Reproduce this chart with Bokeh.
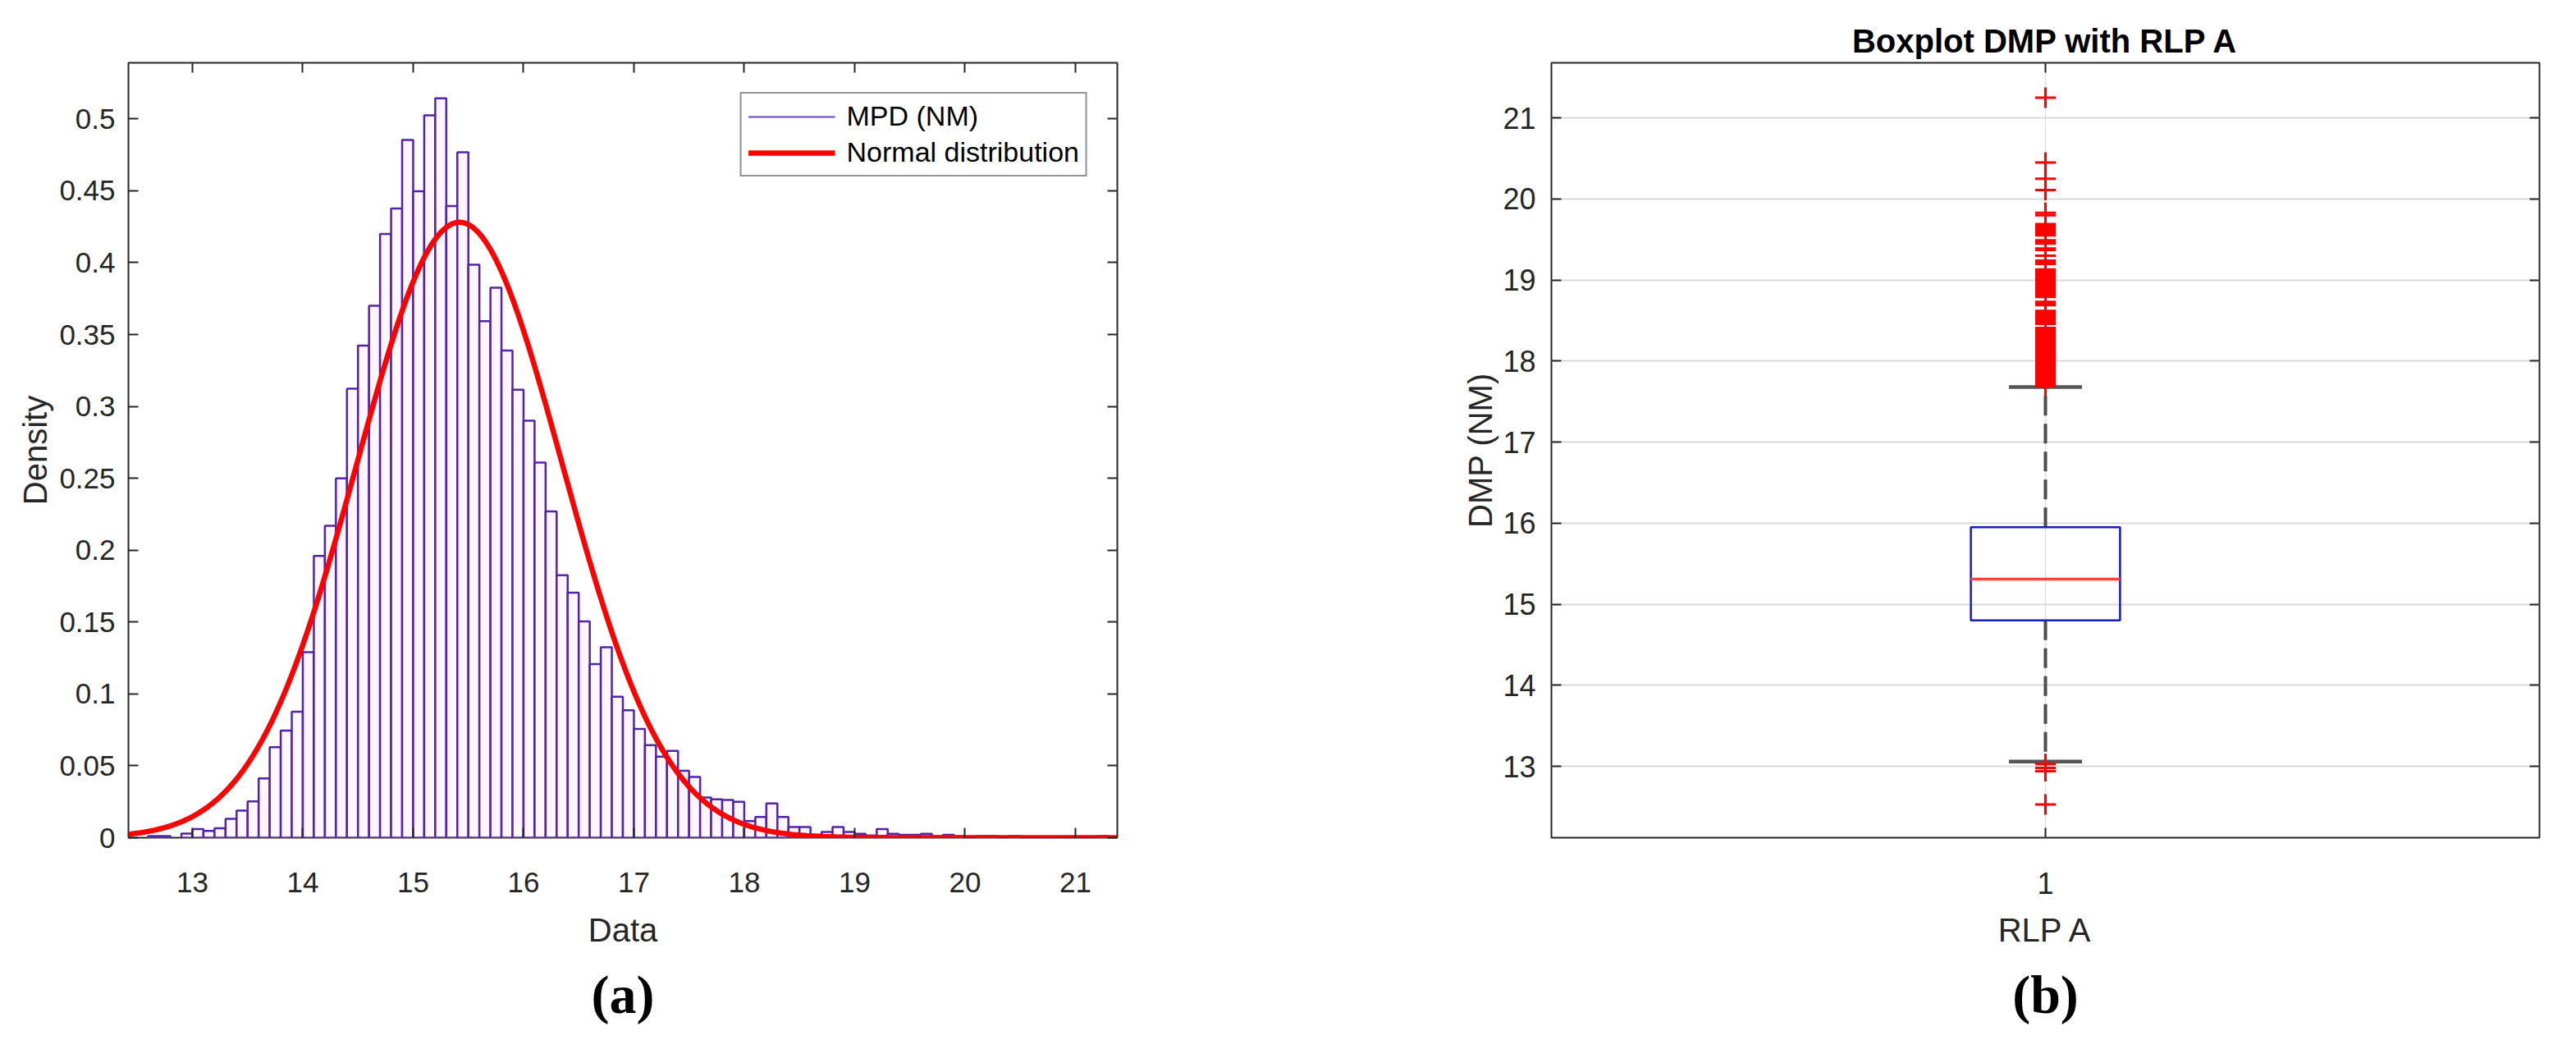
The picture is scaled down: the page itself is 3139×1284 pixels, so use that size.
import numpy as np
from bokeh.plotting import figure
from bokeh.models import (Range1d, LinearAxis, FixedTicker, CustomJSTickFormatter,
                          Legend, LegendItem, Title)
from bokeh.layouts import row
from bokeh.embed import file_html
from bokeh.resources import INLINE

# ---------------- data: panel (a) histogram + normal fit ----------------
bin_start = 12.6
bin_width = 0.1
mpd_density = [
    0.0012, 0.0012, 0.0, 0.0028, 0.0060, 0.0047, 0.0066, 0.0131, 0.0188, 0.0253,   # 12.6 - 13.5
    0.0413, 0.0629, 0.0745, 0.0876, 0.1290, 0.1960, 0.2170, 0.2500, 0.3123, 0.3423,  # 13.6 - 14.5
    0.3700, 0.4200, 0.4377, 0.4853, 0.4496, 0.5024, 0.5143, 0.4394, 0.4768, 0.3985,  # 14.6 - 15.5
    0.3593, 0.3825, 0.3389, 0.3116, 0.2900, 0.2610, 0.2270, 0.1826, 0.1705, 0.1504,  # 15.6 - 16.5
    0.1208, 0.1324, 0.0980, 0.0886, 0.0757, 0.0644, 0.0564, 0.0604, 0.0465, 0.0422,  # 16.6 - 17.5
    0.0280, 0.0267, 0.0262, 0.0250, 0.0116, 0.0144, 0.0239, 0.0144, 0.0074, 0.0074,  # 17.6 - 18.5
    0.0020, 0.0040, 0.0074, 0.0040, 0.0027, 0.0015, 0.0060, 0.0027, 0.0020, 0.0020,  # 18.6 - 19.5
    0.0027, 0.0010, 0.0020, 0.0010, 0.0, 0.0012, 0.0012, 0.0, 0.0012, 0.0,           # 19.6 - 20.5
    0.0, 0.0, 0.0, 0.0, 0.0, 0.0, 0.0012,                                             # 20.6 - 21.2
]
norm_mu = 15.42
norm_sigma = 0.932
xlim_a = (12.42, 21.38)
ylim_a = (0.0, 0.539)
xticks_a = [13, 14, 15, 16, 17, 18, 19, 20, 21]
yticks_a = [0, 0.05, 0.1, 0.15, 0.2, 0.25, 0.3, 0.35, 0.4, 0.45, 0.5]
legend_labels_a = ["MPD (NM)", "Normal distribution"]

# ---------------- data: panel (b) boxplot ----------------
box_q1 = 14.80
box_median = 15.31
box_q3 = 15.95
whisker_low = 13.06
whisker_high = 17.68
outliers_high = [
    17.69, 17.71, 17.73, 17.75, 17.77, 17.79, 17.81, 17.83, 17.85, 17.87, 17.89,
    17.91, 17.93, 17.95, 17.97, 17.99, 18.01, 18.03, 18.05, 18.07, 18.09, 18.11,
    18.13, 18.15, 18.17, 18.19, 18.21, 18.23, 18.25, 18.27, 18.29, 18.31, 18.33,
    18.35, 18.37, 18.39, 18.41, 18.46, 18.48, 18.50, 18.52, 18.54, 18.56, 18.58,
    18.60, 18.62, 18.69, 18.71, 18.73, 18.79, 18.81, 18.83, 18.85, 18.87, 18.89,
    18.91, 18.93, 18.95, 18.97, 18.99, 19.01, 19.03, 19.05, 19.07, 19.09, 19.11,
    19.13, 19.20, 19.22, 19.24, 19.30, 19.37, 19.39, 19.45, 19.47, 19.49, 19.55,
    19.57, 19.59, 19.61, 19.63, 19.65, 19.67, 19.69, 19.80, 19.83, 20.11, 20.25,
    20.45, 21.25,
]
outliers_low = [13.03, 12.98, 12.94, 12.53]
category_b = "1"
xlim_b = (0.5, 1.5)
ylim_b = (12.12, 21.68)
yticks_b = [13, 14, 15, 16, 17, 18, 19, 20, 21]
box_width = 0.151
cap_width = 0.074

# ---------------- styles ----------------
FONT = "Liberation Sans"
TXT = "#262626"
PURPLE = "#5424a8"
RED = "#ff0000"


def style_axis(ax, size):
    ax.axis_line_color = None
    ax.major_tick_in = 12
    ax.major_tick_out = 0
    ax.major_tick_line_color = TXT
    ax.major_tick_line_width = 2
    ax.minor_tick_line_color = None
    ax.major_label_text_font = FONT
    ax.major_label_text_font_size = f"{size}px"
    ax.major_label_text_color = TXT
    ax.axis_label_text_font = FONT
    ax.axis_label_text_font_size = "40px"
    ax.axis_label_text_font_style = "normal"
    ax.axis_label_text_color = TXT


def hidden_axis(p, place, ticks):
    # tick marks only (inside), labels not drawn
    ax = LinearAxis(ticker=FixedTicker(ticks=ticks))
    style_axis(ax, 1)
    ax.major_label_text_color = None
    ax.major_label_standoff = 0
    p.add_layout(ax, place)


def caption(p, letter, offset, standoff):
    t = Title(text=f"({letter})", align="center", offset=offset, standoff=standoff,
              text_font="Liberation Serif", text_font_size="66px",
              text_font_style="bold", text_color="#000000")
    p.add_layout(t, "below")


# ---------------- panel (a) ----------------
pa = figure(width=1692, height=1262, output_backend="svg", toolbar_location=None,
            x_range=Range1d(*xlim_a), y_range=Range1d(*ylim_a),
            min_border_left=156, min_border_right=331, min_border_top=76,
            min_border_bottom=238, x_axis_label="Data", y_axis_label="Density")
pa.outline_line_color = TXT
pa.outline_line_width = 2
pa.xgrid.visible = False
pa.ygrid.visible = False

pa.xaxis.ticker = FixedTicker(ticks=xticks_a)
pa.yaxis.ticker = FixedTicker(ticks=yticks_a)
pa.yaxis.formatter = CustomJSTickFormatter(
    code="return tick.toFixed(2).replace(/0+$/, '').replace(/\\.$/, '');")
for ax in pa.xaxis + pa.yaxis:
    style_axis(ax, 35)
pa.xaxis.major_label_standoff = 42
pa.xaxis.axis_label_standoff = 21
pa.yaxis.major_label_standoff = 16
pa.yaxis.axis_label_standoff = 4
hidden_axis(pa, "above", xticks_a)
hidden_axis(pa, "right", yticks_a)

dens = np.array(mpd_density)
lefts = bin_start + bin_width * np.arange(len(dens))
keep = dens > 0
pa.quad(left=lefts[keep], right=lefts[keep] + bin_width, bottom=0, top=dens[keep],
        fill_color="#fdf6ff", line_color=PURPLE, line_width=2.5)

xs = np.linspace(xlim_a[0], xlim_a[1], 600)
pdf = np.exp(-0.5 * ((xs - norm_mu) / norm_sigma) ** 2) / (norm_sigma * np.sqrt(2 * np.pi))
curve = pa.line(xs, pdf, line_color=RED, line_width=6.5)

# one-point line: only used as the legend swatch of the histogram
leg_line = pa.line(x=[xlim_a[0]], y=[ylim_a[0]], line_color="#6a3fc0", line_width=2)
legend = Legend(items=[LegendItem(label=legend_labels_a[0], renderers=[leg_line]),
                       LegendItem(label=legend_labels_a[1], renderers=[curve])],
                location="top_right", margin=36, padding=8, spacing=5,
                glyph_width=106, glyph_height=34, label_height=34, label_standoff=14,
                label_text_font=FONT, label_text_font_size="34px", label_text_color="#000000",
                border_line_color=TXT, border_line_width=2,
                background_fill_color="white", background_fill_alpha=1.0)
pa.add_layout(legend)

caption(pa, "a", -24, 30)

# ---------------- panel (b) ----------------
pb = figure(width=1428, height=1262, output_backend="svg", toolbar_location=None,
            x_range=Range1d(*xlim_b), y_range=Range1d(*ylim_b),
            min_border_left=198, min_border_right=26, min_border_top=74,
            min_border_bottom=242, x_axis_label="RLP A", y_axis_label="DMP (NM)",
            title="Boxplot DMP with RLP A")
pb.title.text_font = FONT
pb.title.text_font_size = "40px"
pb.title.text_font_style = "bold"
pb.title.text_color = "#000000"
pb.title.align = "center"
pb.title.standoff = 10
pb.outline_line_color = TXT
pb.outline_line_width = 2

pb.xaxis.ticker = FixedTicker(ticks=[1])
pb.xaxis.major_label_overrides = {1: category_b}
pb.yaxis.ticker = FixedTicker(ticks=yticks_b)
for ax in pb.xaxis + pb.yaxis:
    style_axis(ax, 36)
pb.xaxis.major_label_standoff = 42
pb.xaxis.axis_label_standoff = 19
pb.yaxis.major_label_standoff = 19
pb.yaxis.axis_label_standoff = 2
hidden_axis(pb, "above", [1])
hidden_axis(pb, "right", yticks_b)

pb.ygrid.ticker = FixedTicker(ticks=yticks_b)
pb.ygrid.grid_line_color = "#d9d9d9"
pb.ygrid.grid_line_width = 2
pb.xgrid.ticker = FixedTicker(ticks=[1])
pb.xgrid.grid_line_color = "#e0e0e0"
pb.xgrid.grid_line_width = 1.5

pb.segment(x0=[1, 1], y0=[box_q3, box_q1], x1=[1, 1], y1=[whisker_high, whisker_low],
           line_color="#4d4d4d", line_width=4, line_dash="24 10")
pb.quad(left=[1 - box_width / 2], right=[1 + box_width / 2], bottom=[box_q1], top=[box_q3],
        fill_color=None, line_color="#1c1cb0", line_width=2.5)
pb.segment(x0=[1 - box_width / 2], y0=[box_median], x1=[1 + box_width / 2], y1=[box_median],
           line_color="#ff4040", line_width=3.5)
pb.segment(x0=[1 - cap_width / 2] * 2, y0=[whisker_high, whisker_low],
           x1=[1 + cap_width / 2] * 2, y1=[whisker_high, whisker_low],
           line_color="#555555", line_width=4.5)
outs = outliers_high + outliers_low
pb.scatter(x=[1] * len(outs), y=outs, marker="cross", size=25,
           line_color=RED, line_width=3)

caption(pb, "b", -29, 30)

layout = row(pa, pb)
open("out.html", "w").write(file_html(layout, INLINE))
